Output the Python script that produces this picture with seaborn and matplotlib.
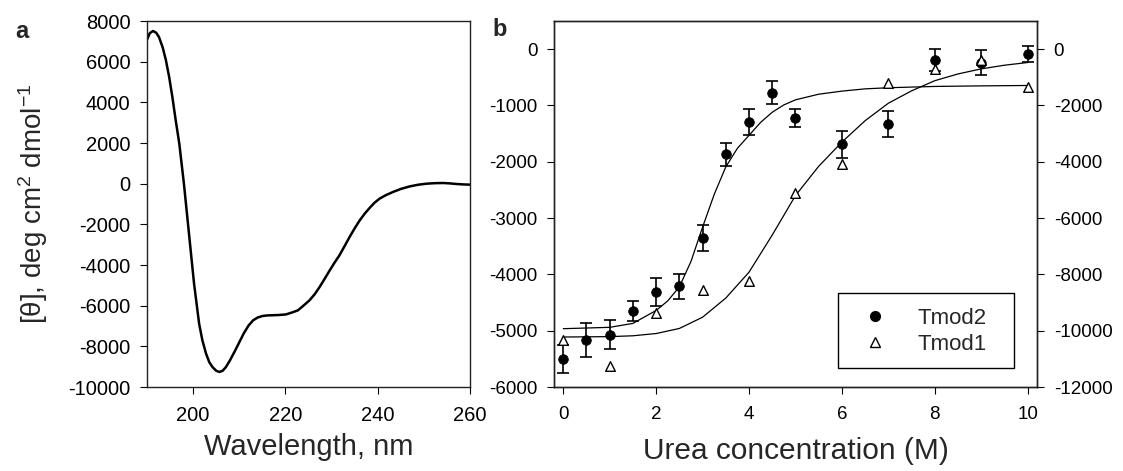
import matplotlib
matplotlib.use("Agg")
import matplotlib.pyplot as plt
from matplotlib.lines import Line2D
from matplotlib.patches import Rectangle
import seaborn as sns
import pandas as pd

# panel a: CD spectrum
wavelength = [190.0, 190.6, 191.3, 192.0, 192.6, 193.4, 194.1, 194.8, 195.5, 196.2,
              197.0, 198.0, 199.1, 200.2, 201.3, 202.0, 202.8, 203.5, 204.2, 205.0,
              205.7, 206.4, 207.1, 208.0, 209.0, 210.0, 211.0, 212.0, 213.0, 214.0,
              215.0, 216.0, 217.2, 218.5, 220.1, 221.5, 222.7, 224.0, 225.2, 226.3,
              227.4, 228.5, 229.6, 230.6, 231.7, 232.8, 233.9, 235.0, 236.1, 237.2,
              238.3, 239.3, 240.4, 241.8, 243.3, 245.0, 247.0, 248.8, 250.6, 252.4,
              254.2, 255.6, 257.1, 258.5, 260.0]
ellipticity = [7080, 7400, 7510, 7420, 7210, 6700, 6070, 5250, 4260, 3150,
               1970, 0, -2460, -4920, -6890, -7700, -8360, -8780, -9020, -9200,
               -9260, -9200, -9020, -8680, -8250, -7800, -7350, -6980, -6720, -6580,
               -6510, -6480, -6470, -6460, -6430, -6330, -6230, -5980, -5740, -5450,
               -5085, -4680, -4264, -3900, -3526, -3080, -2625, -2200, -1805, -1470,
               -1180, -940, -737, -560, -409, -260, -131, -50, 0, 25,
               33, 15, -16, -35, -49]

# panel b: urea denaturation
tmod2_urea = [0, 0.5, 1, 1.5, 2, 2.5, 3, 3.5, 4, 4.5, 5, 6, 7, 8, 9, 10]
tmod2_signal = [-5500, -5160, -5070, -4650, -4310, -4210, -3350, -1870, -1300, -770,
                -1230, -1690, -1330, -195, -240, -90]
tmod2_err = [250, 300, 260, 180, 250, 220, 230, 210, 230, 200, 160, 240, 235, 195, 220, 140]

tmod1_urea = [0, 1, 2, 3, 4, 5, 6, 7, 8, 9, 10]
tmod1_signal = [-10320, -11250, -9360, -8570, -8235, -5110, -4070, -1190, -690, -400, -1340]

fit2_x = [0, 1.0, 1.5, 2.0, 2.25, 2.5, 2.75, 3.0, 3.25, 3.5, 3.75, 4.0, 4.25, 4.5,
          4.75, 5.0, 5.5, 6.0, 6.5, 7.0, 8.0, 9.0, 10.0]
fit2_y = [-4964, -4940, -4870, -4640, -4470, -4220, -3770, -3160, -2580, -2090, -1760,
          -1530, -1300, -1120, -990, -900, -800, -745, -705, -685, -662, -652, -645]

fit1_x = [0, 1.0, 1.5, 2.0, 2.5, 3.0, 3.5, 4.0, 4.5, 5.0, 5.5, 6.0, 6.5, 7.0, 7.5,
          8.0, 8.5, 9.0, 9.5, 10.0]
fit1_y = [-10224, -10210, -10180, -10100, -9920, -9520, -8840, -7920, -6600, -5200,
          -4160, -3300, -2540, -1920, -1480, -1120, -880, -700, -570, -474]

sns.set_style("ticks")
plt.rcParams['font.family'] = ['Liberation Sans', 'DejaVu Sans']
plt.rcParams['mathtext.default'] = 'regular'
plt.rcParams['axes.unicode_minus'] = False
plt.rcParams['axes.edgecolor'] = '#222222'
plt.rcParams['axes.linewidth'] = 1.0

fig = plt.figure(figsize=(11.23, 4.71), dpi=100)
ax_a = fig.add_axes([0.1309, 0.1783, 0.2876, 0.7771])
ax_b = fig.add_axes([0.4933, 0.1783, 0.4301, 0.7771])

# --- panel a
cd = pd.DataFrame({'nm': wavelength, 'theta': ellipticity})
sns.lineplot(data=cd, x='nm', y='theta', ax=ax_a, color='black', linewidth=1.8,
             sort=False, estimator=None)
ax_a.set_xlim(190, 260)
ax_a.set_ylim(-10000, 8000)
ax_a.set_xticks([200, 220, 240, 260])
ax_a.set_yticks(range(-10000, 8001, 2000))
ax_a.tick_params(labelsize=14.5, length=5, width=0.8, direction='out', colors='black')
ax_a.tick_params(axis='x', pad=9)
ax_a.tick_params(axis='y', pad=7)
ax_a.set_xlabel('Wavelength, nm', fontsize=21)
ax_a.set_ylabel('[θ], deg cm$^{2}$ dmol$^{-1}$', fontsize=20)
ax_a.xaxis.label.set_va('baseline')
ax_a.xaxis.set_label_coords(0.5, -0.186)
ax_a.yaxis.set_label_coords(-0.30, 0.5)
for s in ax_a.spines.values():
    s.set_visible(True)

# --- panel b
ax_b.errorbar(tmod2_urea, tmod2_signal, yerr=tmod2_err, fmt='none', ecolor='black',
              elinewidth=1.2, capsize=4.3, capthick=1.2, zorder=2)
sns.scatterplot(x=tmod2_urea, y=tmod2_signal, ax=ax_b, color='black', marker='o',
                s=48, edgecolor='black', zorder=3)
sns.lineplot(x=fit2_x, y=fit2_y, ax=ax_b, color='black', linewidth=0.9,
             sort=False, estimator=None)
ax_b.set_xlim(-0.2, 10.2)
ax_b.set_ylim(-6000, 500)
ax_b.set_xticks(range(0, 11, 2))
ax_b.set_yticks(range(-6000, 1, 1000))
ax_b.tick_params(labelsize=13.5, length=5, width=0.8, direction='out', colors='black')
ax_b.tick_params(axis='x', pad=9)
ax_b.tick_params(axis='y', pad=7)
ax_b.set_xlabel('Urea concentration (M)', fontsize=21.5)
ax_b.xaxis.label.set_va('baseline')
ax_b.xaxis.set_label_coords(0.5, -0.197)
ax_b.set_ylabel('')

ax_r = ax_b.twinx()
sns.lineplot(x=fit1_x, y=fit1_y, ax=ax_r, color='black', linewidth=0.9,
             sort=False, estimator=None)
sns.scatterplot(x=tmod1_urea, y=tmod1_signal, ax=ax_r, marker='^', s=48,
                facecolor='white', edgecolor='black', linewidth=1.0, zorder=3)
ax_r.set_ylim(-12000, 1000)
ax_r.set_yticks(range(-12000, 1, 2000))
ax_r.tick_params(labelsize=13.5, length=5, width=0.8, direction='out', colors='black',
                 pad=7)
ax_r.set_ylabel('')

handles = [
    Line2D([], [], linestyle='none', marker='o', markersize=7, color='black'),
    Line2D([], [], linestyle='none', marker='^', markersize=7, markerfacecolor='white',
           markeredgecolor='black', markeredgewidth=1.0),
]
leg = ax_r.legend(handles, ['Tmod2', 'Tmod1'], loc='center',
                  bbox_to_anchor=(919 / 1123, 1 - 331.5 / 471),
                  bbox_transform=fig.transFigure, fontsize=16, frameon=False,
                  handlelength=2.2, handletextpad=0.8, borderpad=0,
                  labelspacing=0.25, borderaxespad=0)
fig.patches.append(Rectangle((838 / 1123, 1 - 368 / 471), 176 / 1123, 75 / 471,
                             transform=fig.transFigure, fill=False,
                             edgecolor='black', linewidth=1.0, zorder=5))

fig.text(22 / 1123, 1 - 31 / 471, 'a', fontsize=17, fontweight='bold',
         ha='center', va='center')
fig.text(500 / 1123, 1 - 29 / 471, 'b', fontsize=17, fontweight='bold',
         ha='center', va='center')

fig.savefig('out.png', dpi=100)
